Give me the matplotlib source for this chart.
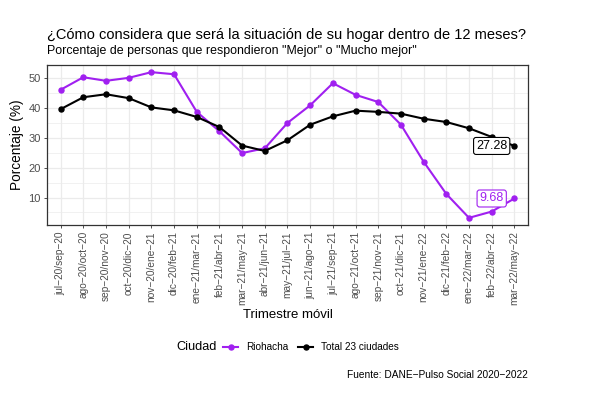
import matplotlib
matplotlib.use("Agg")
import matplotlib.pyplot as plt
from matplotlib.lines import Line2D
from matplotlib.ticker import MultipleLocator

plt.rcParams['font.family'] = ['Liberation Sans', 'DejaVu Sans']

periods = ["jul-20/sep-20", "ago-20/oct-20", "sep-20/nov-20", "oct-20/dic-20",
           "nov-20/ene-21", "dic-20/feb-21", "ene-21/mar-21", "feb-21/abr-21",
           "mar-21/may-21", "abr-21/jun-21", "may-21/jul-21", "jun-21/ago-21",
           "jul-21/sep-21", "ago-21/oct-21", "sep-21/nov-21", "oct-21/dic-21",
           "nov-21/ene-22", "dic-21/feb-22", "ene-22/mar-22", "feb-22/abr-22",
           "mar-22/may-22"]
riohacha = [46.1, 50.3, 49.1, 50.1, 52.0, 51.3, 38.7, 32.2, 24.9, 26.5, 35.0,
            40.9, 48.3, 44.4, 42.0, 34.4, 22.0, 11.2, 3.2, 5.3, 9.68]
total = [39.6, 43.6, 44.6, 43.3, 40.2, 39.2, 37.0, 33.6, 27.4, 25.6, 29.2,
         34.4, 37.2, 39.1, 38.7, 38.1, 36.4, 35.3, 33.2, 30.3, 27.28]
series_names = ["Riohacha", "Total 23 ciudades"]
colors = ["#A020F0", "#000000"]

fig = plt.figure(figsize=(5.89, 3.94), dpi=100)
ax = fig.add_axes([47/589, 1-225/394, (528-47)/589, (225-65)/394])

x = list(range(len(periods)))
for vals, c in zip([riohacha, total], colors):
    ax.plot(x, vals, color=c, lw=1.5, marker='o', markersize=3.6, zorder=3)

ax.set_xlim(-0.6, len(periods) - 0.4)
ax.set_ylim(0.8, 54.4)
ax.yaxis.set_minor_locator(MultipleLocator(5))
ax.set_yticks([10, 20, 30, 40, 50])
ax.set_xticks(x)
ax.set_xticklabels([p.replace("-", "\u2212") for p in periods], rotation=90,
                   fontsize=7.3, color='#4D4D4D')
ax.tick_params(axis='y', labelsize=8, labelcolor='#4D4D4D', pad=2)
ax.tick_params(axis='x', pad=2)
ax.tick_params(which='major', length=2.5, color='#333333', width=0.6)
ax.tick_params(which='minor', length=0)
ax.grid(which='major', color='#EBEBEB', lw=0.9, zorder=0)
ax.grid(which='minor', axis='y', color='#EBEBEB', lw=0.5, zorder=0)
ax.set_axisbelow(True)
for s in ax.spines.values():
    s.set_color('#333333')
    s.set_linewidth(0.9)

ax.set_ylabel("Porcentaje (%)", fontsize=9.8, labelpad=3)
ax.set_xlabel("Trimestre móvil", fontsize=9.5, labelpad=3)

# end labels
ax.text(19, total[-1], f"{total[-1]:.2f}", ha='center', va='center', fontsize=9,
        color='black', zorder=5,
        bbox=dict(boxstyle='round,pad=0.2,rounding_size=0.2', fc='white', ec='black', lw=0.8))
ax.text(19, riohacha[-1], f"{riohacha[-1]:.2f}", ha='center', va='center', fontsize=9,
        color=colors[0], zorder=5,
        bbox=dict(boxstyle='round,pad=0.2,rounding_size=0.2', fc='white', ec=colors[0], lw=0.8))

fig.text(47/589, 1-35/394, "¿Cómo considera que será la situación de su hogar dentro de 12 meses?",
         fontsize=10.5, ha='left', va='center')
fig.text(47/589, 1-51/394, 'Porcentaje de personas que respondieron "Mejor" o "Mucho mejor"',
         fontsize=8.9, ha='left', va='center')

fig.text(176/589, 1-347/394, "Ciudad", fontsize=9.2, ha='left', va='center')
handles = [Line2D([], [], color=c, lw=1.5, marker='o', markersize=3.6) for c in colors]
fig.legend(handles, series_names, loc='center left', bbox_to_anchor=(223/589, 1-347/394),
           ncol=2, frameon=False, fontsize=7.2, handlelength=1.5, handletextpad=0.8,
           columnspacing=1.0, borderaxespad=0, borderpad=0)

fig.text(528/589, 1-375/394, "Fuente: DANE\u2212Pulso Social 2020\u22122022", fontsize=7.3,
         ha='right', va='center')

fig.savefig("out.png", dpi=100)
